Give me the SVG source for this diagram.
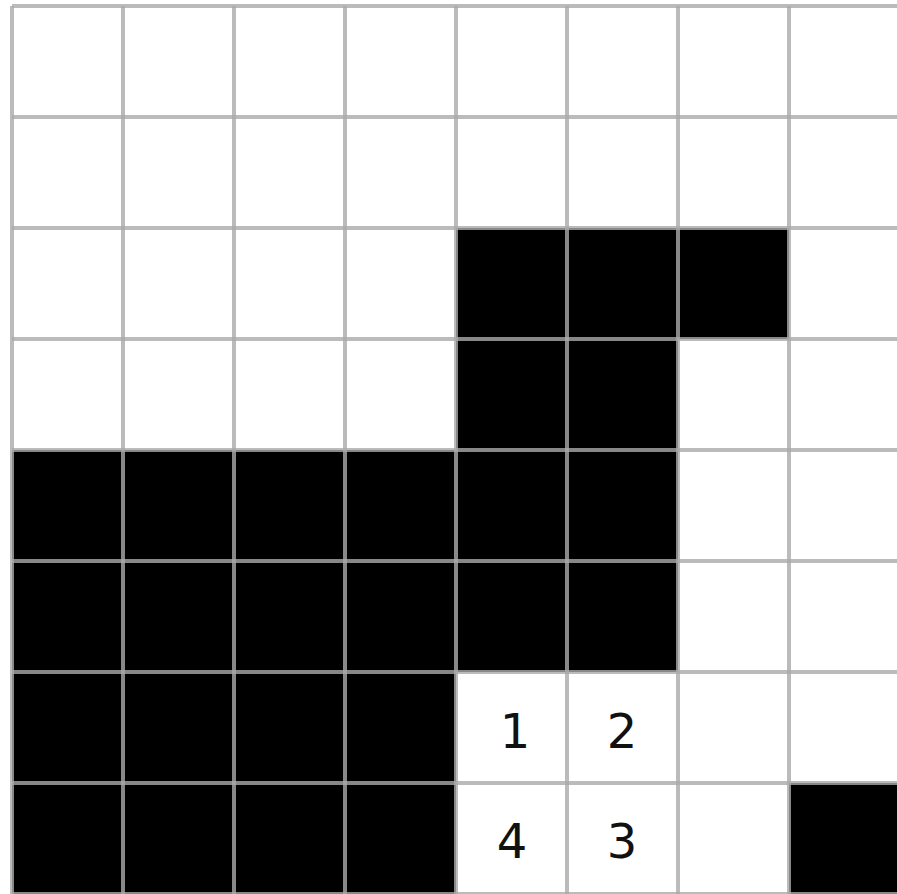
<svg xmlns="http://www.w3.org/2000/svg" width="897" height="894" viewBox="0 0 897 894">
<style>
.b{fill:#000}
.g{stroke:#aaa;stroke-opacity:0.8;stroke-width:4;fill:none}
.t{font-family:"DejaVu Sans",sans-serif;font-size:48px;fill:#111;text-anchor:middle}
</style>
<rect width="897" height="894" fill="#fff"/>
<g id="cells">
<rect class="b" x="456" y="228" width="333" height="111"/>
<rect class="b" x="456" y="339" width="222" height="111"/>
<rect class="b" x="12" y="450" width="666" height="222"/>
<rect class="b" x="12" y="672" width="444" height="222"/>
<rect class="b" x="789" y="783" width="111" height="111"/>
</g>
<g id="grid" class="g">
<path d="M12 6V900M123 6V900M234 6V900M345 6V900M456 6V900M567 6V900M678 6V900M789 6V900M900 6V900"/>
<path d="M12 6H900M12 117H900M12 228H900M12 339H900M12 450H900M12 561H900M12 672H900M12 783H900M12 894H900"/>
</g>
<g id="labels">
<text class="t" x="515" y="748">1</text>
<text class="t" x="622" y="748">2</text>
<text class="t" x="512" y="858">4</text>
<text class="t" x="622" y="858">3</text>
</g>
</svg>
